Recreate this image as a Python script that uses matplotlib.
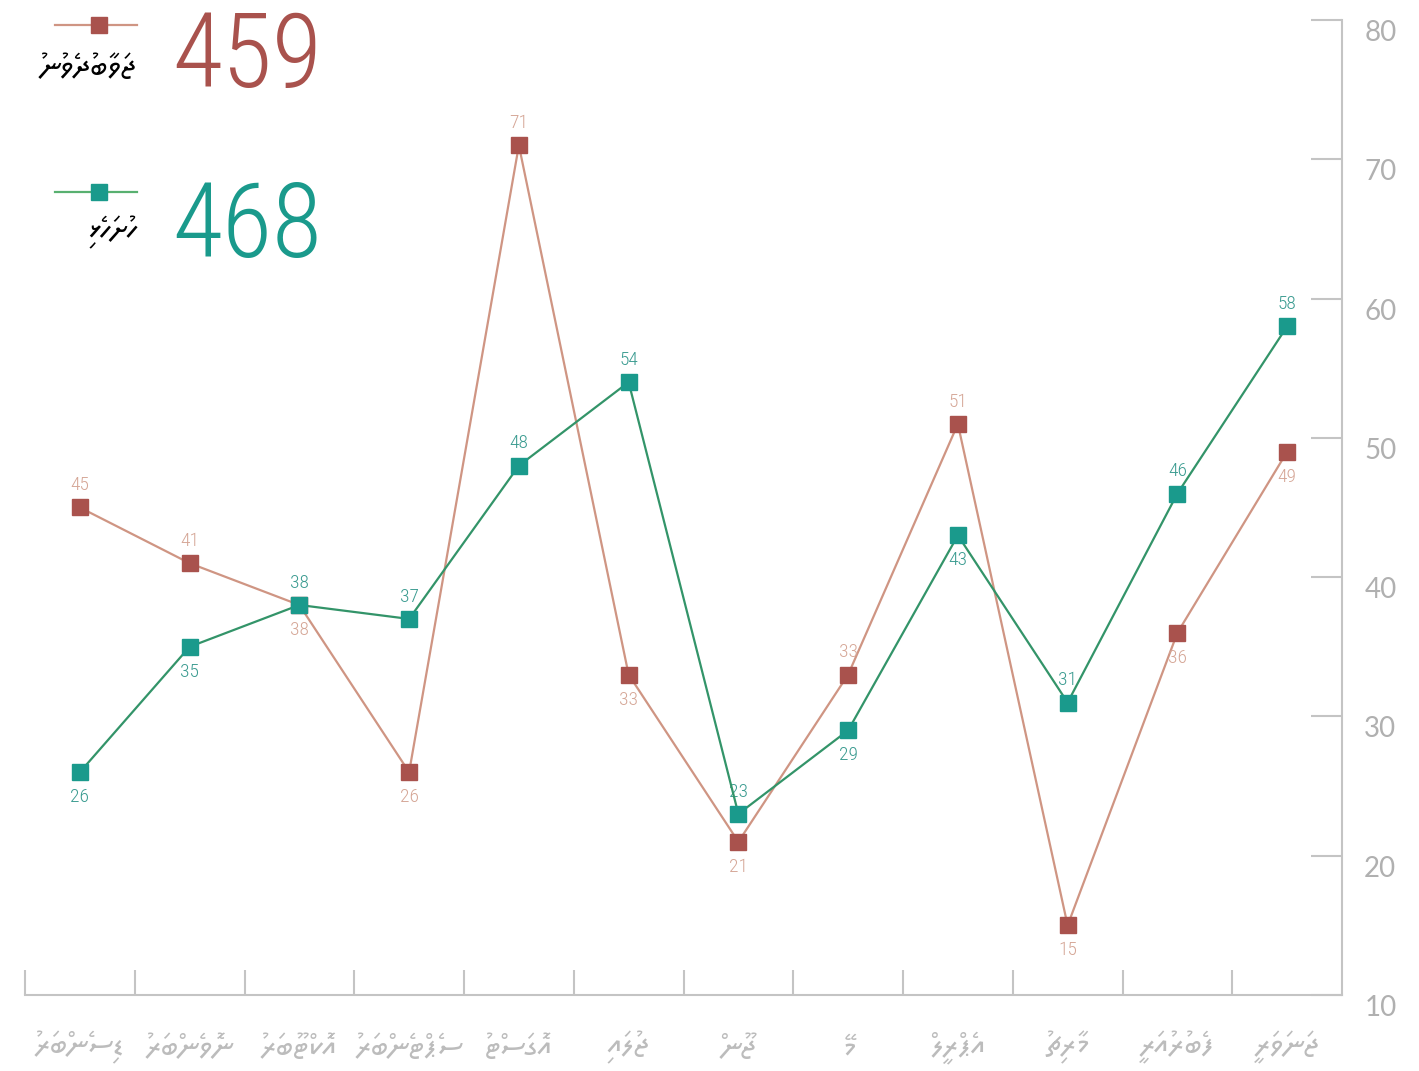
import numpy as np
import matplotlib
matplotlib.use('Agg')
import matplotlib.pyplot as plt
from matplotlib.lines import Line2D

# months Jan..Dec (Dhivehi), axis runs right-to-left
months = ['ޖަނަވަރީ', 'ފެބުރުއަރީ', 'މާރިޗު', 'އެޕްރީލް', 'މޭ', 'ޖޫން',
          'ޖުލައި', 'އޮގަސްޓު', 'ސެޕްޓެންބަރު', 'އޮކްޓޫބަރު', 'ނޮވެންބަރު', 'ޑިސެންބަރު']
answered = [49, 36, 15, 51, 33, 21, 33, 71, 26, 38, 41, 45]
submitted = [58, 46, 31, 43, 29, 23, 54, 48, 37, 38, 35, 26]
answered_name = 'ޖަވާބުދެވުނު'
submitted_name = 'ހުށަހެޅި'
answered_pos = ['b', 'b', 'b', 'a', 'a', 'b', 'b', 'a', 'b', 'b', 'a', 'a']
submitted_pos = ['a', 'a', 'a', 'b', 'b', 'a', 'a', 'a', 'a', 'a', 'b', 'b']

RED = '#a9524d'
RED_LINE = '#cf9583'
RED_TXT = '#d5a696'
GREEN = '#1a9a8c'
GREEN_LINE = '#339469'
GREEN_TXT = '#3a9b90'
GREY = '#c4c4c4'

NUM_FONT = ['Roboto Condensed', 'Oswald', 'DejaVu Sans']
TICK_FONT = ['Lato', 'DejaVu Sans']
THAANA = ['Noto Sans Thaana', 'DejaVu Sans']


def visual(s):
    # matplotlib lays text out left to right and Thaana runs right to left;
    # a plain reversal puts each fili just before its letter, where the font wants it
    return s[::-1]


fig = plt.figure(figsize=(14.19, 10.71), dpi=100)
ax = fig.add_axes([25 / 1419, 76 / 1071, 1317 / 1419, 975 / 1071])

x = np.arange(len(months))
ax.plot(x, answered, color=RED_LINE, lw=1.6, marker='s', ms=12,
        mfc=RED, mec=RED, zorder=3)
ax.plot(x, submitted, color=GREEN_LINE, lw=1.6, marker='s', ms=12,
        mfc=GREEN, mec=GREEN, zorder=4)

for vals, pos, col in [(answered, answered_pos, RED_TXT), (submitted, submitted_pos, GREEN_TXT)]:
    for i, (v, p) in enumerate(zip(vals, pos)):
        dy = 16 if p == 'a' else -18
        ax.annotate(str(v), (i, v), xytext=(0, dy), textcoords='offset points',
                    ha='center', va='center', fontsize=14, color=col,
                    family=NUM_FONT, fontweight='light')

ax.set_xlim(11.5, -0.5)
ax.set_ylim(10, 80)

for s in ['top', 'left']:
    ax.spines[s].set_visible(False)
for s in ['right', 'bottom']:
    ax.spines[s].set_color(GREY)
    ax.spines[s].set_linewidth(1.5)

ax.yaxis.tick_right()
ax.set_yticks(range(10, 81, 10))
ax.tick_params(axis='y', direction='in', length=22, width=1.5, color=GREY,
               pad=16, labelsize=20, labelcolor='#b0b0b0')
for lbl in ax.get_yticklabels():
    lbl.set_family(TICK_FONT)
    lbl.set_va('top')

ax.set_xticks(x)
ax.set_xticklabels([visual(m) for m in months], family=THAANA,
                   fontsize=23, color='#bcbcbc')
ax.set_xticks(np.arange(0.5, 12, 1), minor=True)
ax.tick_params(axis='x', which='major', length=0, pad=26)
ax.tick_params(axis='x', which='minor', direction='in', length=18,
               width=1.5, color=GREY)

# legend block in the top left
leg = [(answered_name, sum(answered), RED, RED_LINE, RED, 0.9949, 0.9508, 0.9600),
       (submitted_name, sum(submitted), GREEN, '#58b070', GREEN, 0.8236, 0.7826, 0.7866)]
for name, total, mc, lc, tc, ly, ty, ny in leg:
    ax.add_line(Line2D([0.0228, 0.085], [ly, ly], transform=ax.transAxes,
                       color=lc, lw=1.6, clip_on=False))
    ax.add_line(Line2D([0.0562], [ly], transform=ax.transAxes, marker='s',
                       ms=12, mfc=mc, mec=mc, clip_on=False))
    ax.text(0.085, ty, visual(name), transform=ax.transAxes, ha='right',
            va='center', fontsize=23, color='black', family=THAANA)
    ax.text(0.1116, ny, str(total), transform=ax.transAxes, ha='left',
            va='center', fontsize=74, color=tc, family=NUM_FONT,
            fontweight='light')

fig.savefig('out.png', dpi=100)
